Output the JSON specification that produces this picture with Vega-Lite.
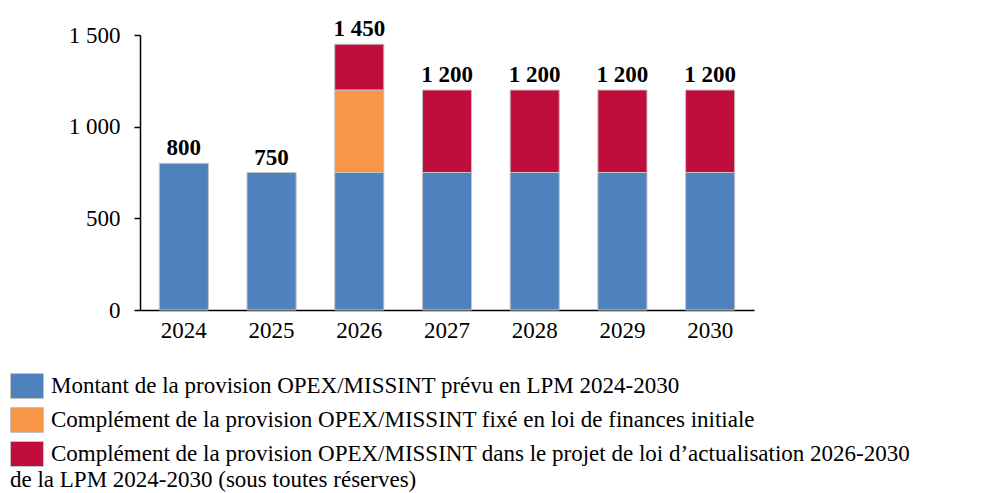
{
  "$schema": "https://vega.github.io/schema/vega-lite/v6.json",
  "width": 614,
  "height": 275,
  "autosize": {"type": "none"},
  "padding": {"left": 140, "top": 35, "right": 244, "bottom": 183},
  "background": "white",
  "config": {
    "view": {"stroke": null},
    "font": "Liberation Serif",
    "locale": {"number": {"decimal": ",", "thousands": " ", "grouping": [3], "currency": ["", " €"]}}
  },
  "data": {
    "values": [
      {"annee": "2024", "serie": "Montant de la provision OPEX/MISSINT prévu en LPM 2024-2030", "valeur": 800},
      {"annee": "2025", "serie": "Montant de la provision OPEX/MISSINT prévu en LPM 2024-2030", "valeur": 750},
      {"annee": "2026", "serie": "Montant de la provision OPEX/MISSINT prévu en LPM 2024-2030", "valeur": 750},
      {"annee": "2026", "serie": "Complément de la provision OPEX/MISSINT fixé en loi de finances initiale", "valeur": 450},
      {"annee": "2026", "serie": "Complément de la provision OPEX/MISSINT dans le projet de loi d’actualisation 2026-2030", "valeur": 250},
      {"annee": "2027", "serie": "Montant de la provision OPEX/MISSINT prévu en LPM 2024-2030", "valeur": 750},
      {"annee": "2027", "serie": "Complément de la provision OPEX/MISSINT dans le projet de loi d’actualisation 2026-2030", "valeur": 450},
      {"annee": "2028", "serie": "Montant de la provision OPEX/MISSINT prévu en LPM 2024-2030", "valeur": 750},
      {"annee": "2028", "serie": "Complément de la provision OPEX/MISSINT dans le projet de loi d’actualisation 2026-2030", "valeur": 450},
      {"annee": "2029", "serie": "Montant de la provision OPEX/MISSINT prévu en LPM 2024-2030", "valeur": 750},
      {"annee": "2029", "serie": "Complément de la provision OPEX/MISSINT dans le projet de loi d’actualisation 2026-2030", "valeur": 450},
      {"annee": "2030", "serie": "Montant de la provision OPEX/MISSINT prévu en LPM 2024-2030", "valeur": 750},
      {"annee": "2030", "serie": "Complément de la provision OPEX/MISSINT dans le projet de loi d’actualisation 2026-2030", "valeur": 450}
    ]
  },
  "layer": [
    {
      "mark": {"type": "bar", "stroke": "#c4c4c4", "strokeWidth": 1},
      "encoding": {
        "x": {
          "field": "annee", "type": "nominal",
          "scale": {"paddingInner": 0.44, "paddingOuter": 0.22},
          "axis": {"title": null, "labelAngle": 0, "labelFontSize": 23, "labelColor": "black", "labelPadding": 9, "ticks": false, "domainColor": "black", "domainWidth": 1.5}
        },
        "y": {
          "field": "valeur", "type": "quantitative", "stack": "zero",
          "scale": {"domain": [0, 1500], "nice": false},
          "axis": {"title": null, "values": [0, 500, 1000, 1500], "format": ",d", "grid": false, "labelFontSize": 23, "labelColor": "black", "labelPadding": 14, "tickSize": 6, "tickColor": "black", "domainColor": "black", "domainWidth": 1.5, "tickWidth": 1.5}
        },
        "color": {
          "field": "serie", "type": "nominal",
          "sort": [
            "Montant de la provision OPEX/MISSINT prévu en LPM 2024-2030",
            "Complément de la provision OPEX/MISSINT fixé en loi de finances initiale",
            "Complément de la provision OPEX/MISSINT dans le projet de loi d’actualisation 2026-2030"
          ],
          "scale": {
            "domain": [
              "Montant de la provision OPEX/MISSINT prévu en LPM 2024-2030",
              "Complément de la provision OPEX/MISSINT fixé en loi de finances initiale",
              "Complément de la provision OPEX/MISSINT dans le projet de loi d’actualisation 2026-2030"
            ],
            "range": ["#4F81BD", "#F79646", "#C00D3C"]
          },
          "legend": {
            "orient": "none", "legendX": -130, "legendY": 334, "direction": "vertical",
            "title": "de la LPM 2024-2030 (sous toutes réserves)",
            "titleOrient": "bottom", "titleAnchor": "start", "titleFontWeight": "normal", "titleFontSize": 23, "titleColor": "black", "titlePadding": 0, "titleLimit": 1000,
            "labelFontSize": 23, "labelColor": "black", "labelLimit": 1000, "labelOffset": 7,
            "symbolType": "M-1,-0.76H1V0.76H-1Z", "symbolSize": 1089, "symbolStrokeColor": "#c4c4c4", "symbolStrokeWidth": 1, "symbolOpacity": 1,
            "rowPadding": 2
          }
        }
      }
    },
    {
      "mark": {"type": "text", "fontWeight": "bold", "fontSize": 23, "baseline": "alphabetic", "dy": -8, "color": "black"},
      "encoding": {
        "x": {"field": "annee", "type": "nominal"},
        "y": {"aggregate": "sum", "field": "valeur", "type": "quantitative"},
        "text": {"aggregate": "sum", "field": "valeur", "type": "quantitative", "format": ",d"}
      }
    }
  ]
}
